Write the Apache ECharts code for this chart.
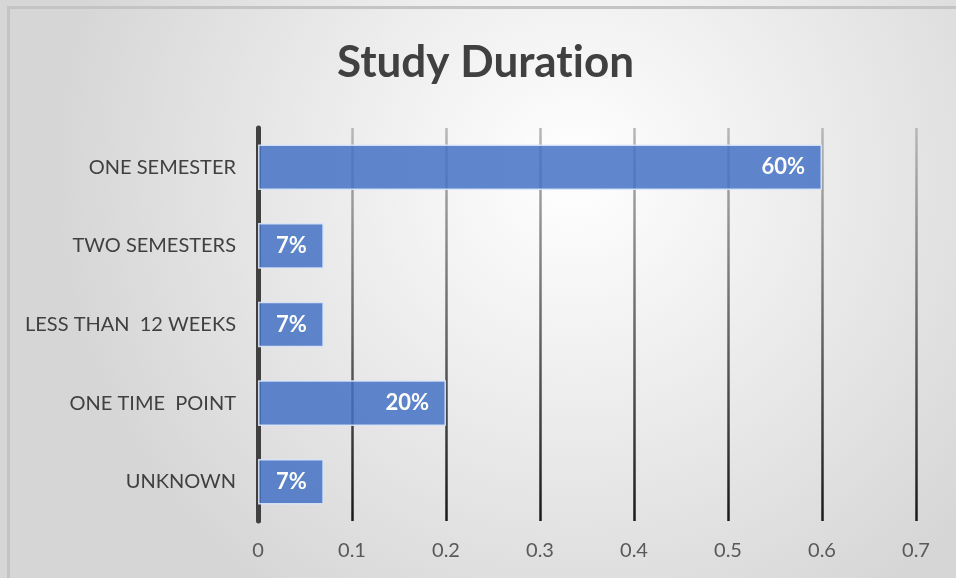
<!DOCTYPE html>
<html>
<head>
<meta charset="utf-8">
<script src="https://cdn.jsdelivr.net/npm/echarts@6/dist/echarts.min.js"></script>
<style>
    html, body { margin: 0; padding: 0; background: #fff; }
    #main { width: 956px; height: 578px; }
</style>
</head>
<body>
<div id="main"></div>
<script>
    // 数据
    var categories = ['ONE SEMESTER', 'TWO SEMESTERS', 'LESS THAN  12 WEEKS', 'ONE TIME  POINT', 'UNKNOWN'];
    var shares = [0.6, 0.07, 0.07, 0.2, 0.07];
    var xTicks = [0, 0.1, 0.2, 0.3, 0.4, 0.5, 0.6, 0.7];

    var chart = echarts.init(document.getElementById('main'));
    var font = 'Lato, "Open Sans", sans-serif';
    var titleStyle = {fontFamily: font, fontSize: 44, fontWeight: 'bold', color: '#404040'};

    var option = {
        animation: false,
        backgroundColor: {
            type: 'radial', x: 0.6, y: 0.3, r: 0.9,
            colorStops: [
                {offset: 0, color: '#ffffff'},
                {offset: 1, color: '#d6d6d6'}
            ]
        },
        graphic: [{
            type: 'rect',
            shape: {x: 8.5, y: 7.5, width: 960, height: 580},
            style: {fill: 'none', stroke: '#c4c4c4', lineWidth: 3},
            silent: true
        }],
        title: {
            // 分两段写，避免 ti 连字
            text: '{a|Study Durat}{a|ion}',
            left: 337,
            top: 36,
            padding: [5, 0, 5, 0],
            textStyle: {
                fontFamily: font, fontSize: 44, fontWeight: 'bold', color: '#404040',
                rich: {a: titleStyle}
            }
        },
        grid: {left: 258, right: 40, top: 128, bottom: 57},
        xAxis: {
            type: 'value',
            min: 0,
            max: 0.7,
            interval: 0.1,
            axisLine: {show: false},
            axisTick: {show: false},
            axisLabel: {
                fontFamily: font, fontSize: 20, color: '#595959', margin: 20,
                formatter: function (v) {
                    var i = Math.round(v * 10);
                    return xTicks[i] === undefined ? '' : String(xTicks[i]);
                }
            },
            splitLine: {
                show: true,
                lineStyle: {
                    width: 2.5,
                    color: {
                        type: 'linear', x: 0, y: 128, x2: 0, y2: 517, global: true,
                        colorStops: [
                            {offset: 0, color: '#b8b8b8'},
                            {offset: 1, color: '#1a1a1a'}
                        ]
                    }
                }
            }
        },
        yAxis: {
            type: 'category',
            data: categories,
            inverse: true,
            axisLine: {show: true, lineStyle: {color: '#404040', width: 5}},
            axisTick: {show: false},
            axisLabel: {fontFamily: font, fontSize: 20, color: '#404040', margin: 22, padding: [4, 0, 0, 0]}
        },
        series: [{
            type: 'bar',
            data: shares,
            barWidth: '58%',
            itemStyle: {
                color: 'rgba(68,114,196,0.85)',
                borderColor: 'rgba(220,230,248,0.9)',
                borderWidth: 1.5
            },
            label: {
                show: true,
                position: 'insideRight',
                distance: 17,
                fontFamily: font,
                fontSize: 22,
                fontWeight: 'bold',
                color: '#ffffff',
                formatter: function (p) {
                    return Math.round(p.value * 100) + '%';
                }
            }
        }]
    };

    chart.setOption(option);
</script>
</body>
</html>
